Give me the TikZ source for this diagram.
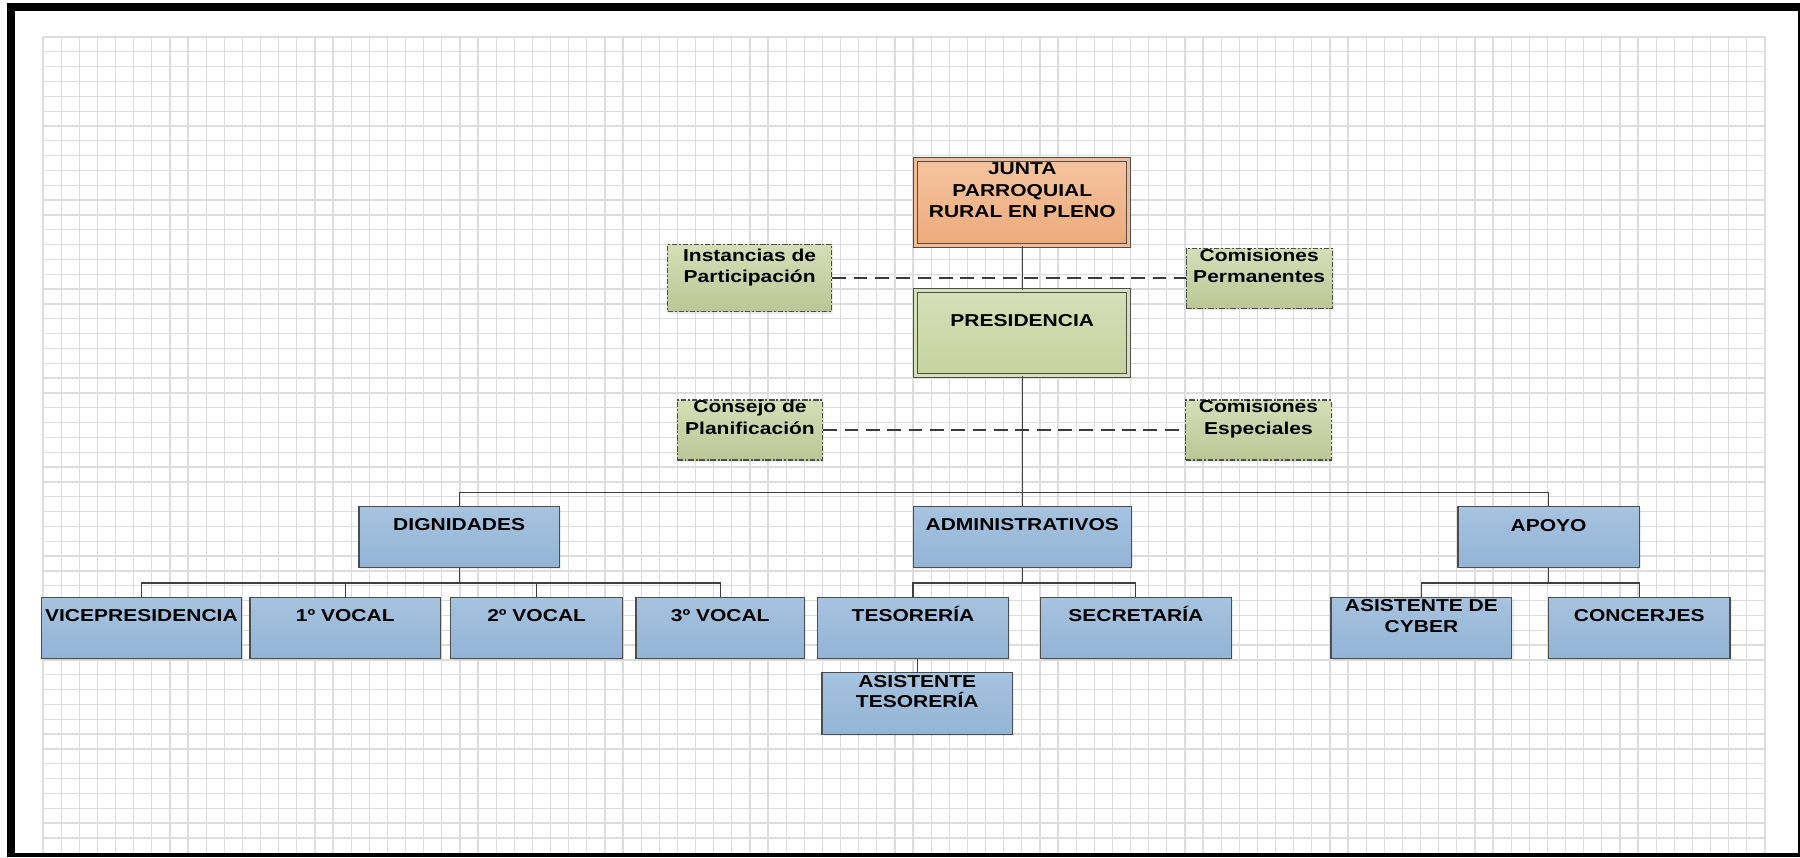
\documentclass[tikz,border=0pt]{standalone}
\usepackage{fontspec}
\newfontfamily\orgfont[FakeStretch=1.22]{Liberation Sans Bold}
\usetikzlibrary{shadows}
\definecolor{boxline}{HTML}{4D4D4D}
\definecolor{linkline}{HTML}{404040}
\definecolor{paper}{HTML}{DDDDDD}
\definecolor{blueTop}{HTML}{A6C3DF}
\definecolor{blueBot}{HTML}{93B4D6}
\definecolor{orangeTop}{HTML}{F5C4A0}
\definecolor{orangeBot}{HTML}{EDAA7A}
\definecolor{greenTop}{HTML}{D6DFB8}
\definecolor{greenBot}{HTML}{C5D19E}

\begin{document}
\begin{tikzpicture}[x=0.5pt,y=-0.5pt]
    \tikzset{org box/.style 2 args={draw=boxline, line width=0.5pt,
             minimum width=#1*0.5pt, minimum height=#2*0.5pt, inner sep=0pt,
             drop shadow={shadow xshift=0.8pt, shadow yshift=-0.8pt, opacity=0.15}}}
    \tikzset{blue box/.style={top color=blueTop, bottom color=blueBot}}
    \tikzset{orange box/.style={top color=orangeTop, bottom color=orangeBot,
             line width=0.45pt, double=orangeTop!70!orangeBot, double distance=1.25pt}}
    \tikzset{green box/.style={top color=greenTop, bottom color=greenBot,
             line width=0.45pt, double=greenTop, double distance=1.25pt}}
    \tikzset{dashed box/.style={top color=greenTop!95!greenBot, bottom color=greenBot!95!black,
             dash pattern=on 2.4pt off 0.8pt on 0.8pt off 0.8pt}}
    % base of a label is its last line
    \tikzset{boxtext/.style={anchor=base, inner sep=0pt, align=center,
             font=\orgfont\fontsize{7.5pt}{9.4pt}\selectfont, yshift={-#1*0.5pt}}}
    \tikzset{link/.style={draw=linkline, line width=0.5pt}}
    \tikzset{dash link/.style={draw=linkline!90!black, line width=0.55pt, dash pattern=on 6pt off 3.3pt}}
    \tikzset{paper line/.style={draw=paper, line width=0.55pt}}

    \useasboundingbox (0,0) rectangle (1568,746.6);
    \fill[white] (0,0) rectangle (1568,746.6);

    % squared paper
    \foreach \gx in {0,...,95}
        \draw[paper line] ({37.5+\gx*15.789},32.2) -- ({37.5+\gx*15.789},743.3);
    \foreach \gy in {0,...,54}
        \draw[paper line] (37.5,{32.2+\gy*12.92}) -- (1537.5,{32.2+\gy*12.92});

    % frame
    \fill[black] (6.4,2.3) rectangle (13.1,746.6);
    \fill[black] (6.4,2.3) rectangle (1568,9.6);
    \fill[black] (1566,2.3) rectangle (1568,746.6);
    \fill[black] (6.4,743.3) rectangle (1568,746.6);

    % top
    \node[org box={185.4}{75}, orange box,
          label={[boxtext=51]north:{JUNTA\\PARROQUIAL\\RURAL EN PLENO}}] (junta) at (890.5,176.7) {};
    \node[org box={185.4}{74.7}, green box,
          label={[boxtext=32.4]north:PRESIDENCIA}] (pres) at (890.5,290.1) {};
    \node[org box={142.9}{58.7}, dashed box,
          label={[boxtext=34]north:{Instancias de\\Participación}}] (inst) at (653,242.2) {};
    \node[org box={127.3}{52.5}, dashed box,
          label={[boxtext=30.5]north:{Comisiones\\Permanentes}}] (comperm) at (1096.9,242.5) {};
    \node[org box={126.6}{52.3}, dashed box,
          label={[boxtext=30.4]north:{Consejo de\\Planificación}}] (consejo) at (653.3,374.6) {};
    \node[org box={126.6}{52.3}, dashed box,
          label={[boxtext=30.4]north:{Comisiones\\Especiales}}] (comesp) at (1096.2,374.6) {};

    % second level
    \node[org box={174.5}{52.8}, blue box, label={[boxtext=21.2]north:DIGNIDADES}] (dig) at (400,467.8) {};
    \node[org box={189.7}{52.8}, blue box, label={[boxtext=21.2]north:ADMINISTRATIVOS}] (admin) at (890.5,467.8) {};
    \node[org box={158}{52.8}, blue box, label={[boxtext=21.7]north:APOYO}] (apoyo) at (1349,467.8) {};

    % third level
    \node[org box={173.7}{53.2}, blue box, label={[boxtext=21.3]north:VICEPRESIDENCIA}] (vice) at (123.2,546.9) {};
    \node[org box={166}{53.2}, blue box, label={[boxtext=21.3]north:1º VOCAL}] (vocal1) at (300.8,546.9) {};
    \node[org box={149.8}{53.2}, blue box, label={[boxtext=21.3]north:2º VOCAL}] (vocal2) at (467.5,546.9) {};
    \node[org box={146.7}{53.2}, blue box, label={[boxtext=21.3]north:3º VOCAL}] (vocal3) at (627.4,546.9) {};
    \node[org box={166.6}{53.2}, blue box, label={[boxtext=21.3]north:TESORERÍA}] (tes) at (795.3,546.9) {};
    \node[org box={165.9}{53.2}, blue box, label={[boxtext=21.3]north:SECRETARÍA}] (secr) at (989.5,546.9) {};
    \node[org box={157.6}{53.2}, blue box,
          label={[boxtext=31.1]north:{ASISTENTE DE\\[-0.25pt]CYBER}}] (cyber) at (1238.2,546.9) {};
    \node[org box={158}{53.2}, blue box, label={[boxtext=22]north:CONCERJES}] (conc) at (1428,546.9) {};
    \node[org box={166}{53.5}, blue box,
          label={[boxtext=31]north:{ASISTENTE\\[-0.7pt]TESORERÍA}}] (asistt) at (799,612.8) {};

    % connectors
    \coordinate (topbus) at (890.5,428.9);
    \draw[link] (junta.south) -- (pres.north);
    \draw[link] (pres.south) -- (topbus);
    \draw[link] (dig.north) |- (topbus) -| (apoyo.north);
    \draw[link] (topbus) -- (admin.north);
    \draw[dash link] (inst.east) -- (inst.east -| comperm.west);
    \draw[dash link] (consejo.east) -- (consejo.east -| comesp.west);

    \draw[link] (dig.south) -- ++(0,13.1) coordinate (digbus);
    \foreach \n in {vice,vocal1,vocal2,vocal3}
        \draw[link] (digbus) -| (\n.north);
    \draw[link] (admin.south) -- ++(0,13.1) coordinate (admbus);
    \foreach \n in {tes,secr}
        \draw[link] (admbus) -| (\n.north);
    \draw[link] (apoyo.south) -- ++(0,13.1) coordinate (apbus);
    \foreach \n in {cyber,conc}
        \draw[link] (apbus) -| (\n.north);
    \draw[link] (asistt.north) -- (asistt.north |- tes.south);
\end{tikzpicture}
\end{document}
